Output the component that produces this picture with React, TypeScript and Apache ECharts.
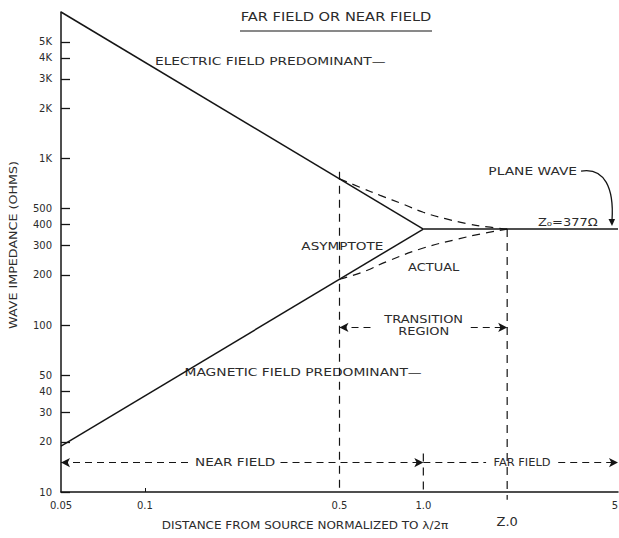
import React, { useEffect, useRef } from 'react';
import * as echarts from 'echarts';

// ---- axis ticks ----
const xTickValues = [0.05, 0.1, 0.5, 1, 2, 5];
const xTickLabels = ['0.05', '0.1', '0.5', '1.0', 'Z.0', '5'];
const xMinorTicks = [0.1];
const yTickValues = [10, 20, 30, 40, 50, 100, 200, 300, 400, 500, 1000, 2000, 3000, 4000, 5000];
const yTickLabels = ['10', '20', '30', '40', '50', '100', '200', '300', '400', '500', '1K', '2K', '3K', '4K', '5K'];
const xRange = [0.05, 5];
const yRange = [10, 7540];

// ---- curves (x = distance / (lambda/2pi), y = wave impedance in ohms) ----
const electricAsymptote = [[0.05, 7540], [1, 377]];
const magneticAsymptote = [[0.05, 18.85], [1, 377]];
const planeWave = [[1, 377], [5, 377]];
const electricActual = [[0.5, 754], [0.6, 665], [0.7, 600], [0.85, 530], [1.0, 475], [1.2, 435], [1.45, 405], [1.7, 388], [2.0, 377]];
const magneticActual = [[0.5, 188.5], [0.6, 207], [0.75, 243], [1.0, 290], [1.3, 325], [1.6, 352], [2.0, 377]];
const boundaryHalf = [[0.5, 830], [0.5, 10]];
const boundaryOne = [[1, 17], [1, 10]];
const boundaryTwo = [[2, 377], [2, 9]];

// ---- region arrows: [fromX, toX, level, arrowAtStart, arrowAtEnd] ----
const regionArrows: [number, number, number, boolean, boolean][] = [
  [0.5, 0.67, 97, true, false],
  [1.48, 2, 97, false, true],
  [0.05, 0.146, 15, true, false],
  [0.307, 1, 15, false, true],
  [1, 1.68, 15, false, false],
  [3.05, 5, 15, false, true],
];

// ---- annotations (data coordinates of text centres) ----
const annotations = [
  { text: 'ELECTRIC FIELD PREDOMINANT—', x: 0.282, y: 3810, sx: 1.38 },
  { text: 'MAGNETIC FIELD PREDOMINANT—', x: 0.37, y: 51.6, sx: 1.38 },
  { text: 'ASYMPTOTE', x: 0.512, y: 297, sx: 1.36 },
  { text: 'ACTUAL', x: 1.089, y: 222, sx: 1.3 },
  { text: 'TRANSITION', x: 1.003, y: 108.6, sx: 1.3 },
  { text: 'REGION', x: 1.003, y: 92, sx: 1.3 },
  { text: 'PLANE WAVE', x: 2.47, y: 835, sx: 1.38 },
  { text: 'Z₀=377Ω', x: 3.3, y: 410, sx: 1.3 },
  { text: 'NEAR FIELD', x: 0.211, y: 15, sx: 1.36 },
  { text: 'FAR FIELD', x: 2.26, y: 15, sx: 1.14 },
];
const planeWaveTarget = [4.72, 377];

const titleText = 'FAR FIELD OR NEAR FIELD';
const xAxisTitle = 'DISTANCE FROM SOURCE NORMALIZED TO λ/2π';
const yAxisTitle = 'WAVE IMPEDANCE (OHMS)';

const FONT = 'DejaVu Sans';
const LINE = '#151515';
const TEXT = '#2b2b2b';

function lookup(values: number[], labels: string[], v: number) {
  let best = 0;
  let bestD = Infinity;
  values.forEach((t, i) => {
    const d = Math.abs(Math.log10(t) - Math.log10(v));
    if (d < bestD) { bestD = d; best = i; }
  });
  return bestD < 0.01 ? labels[best] : '';
}

export default function App() {
  const ref = useRef<HTMLDivElement>(null);
  useEffect(() => {
    document.body.style.margin = '0';
    const chart = echarts.init(ref.current!, null, { renderer: 'svg' });

    const solid = (name: string, data: number[][], extra: any = {}) => ({
      type: 'line', name, data, symbol: 'none', silent: true, z: 3,
      lineStyle: { color: LINE, width: 1.5 }, ...extra,
    });
    const dashed = (name: string, data: number[][], extra: any = {}) => ({
      type: 'line', name, data, symbol: 'none', silent: true, z: 2,
      lineStyle: { color: LINE, width: 1.2, type: [8, 6] }, ...extra,
    });

    const markData = regionArrows.map(([x0, x1, lvl, a0, a1]) => [
      { coord: [x0, lvl], symbol: a0 ? 'arrow' : 'none' },
      { coord: [x1, lvl], symbol: a1 ? 'arrow' : 'none' },
    ]);

    const option: any = {
      animation: false,
      backgroundColor: '#ffffff',
      grid: { left: 61, top: 12, right: 1, bottom: 46, containLabel: false, outerBoundsMode: 'none' },
      xAxis: {
        type: 'log', logBase: 10, min: xRange[0], max: xRange[1],
        axisLine: { show: true, onZero: false, lineStyle: { color: LINE, width: 1.5 } },
        axisTick: { show: true, inside: true, length: 4, customValues: xMinorTicks, lineStyle: { color: LINE, width: 1 } },
        axisLabel: {
          customValues: xTickValues,
          margin: 8,
          alignMaxLabel: 'right',
          color: TEXT, fontSize: 10, fontFamily: FONT,
          formatter: (v: number) => {
            const s = lookup(xTickValues, xTickLabels, v);
            return s === 'Z.0' ? '{z|Z.0}' : s;
          },
          rich: { z: { fontSize: 13, fontFamily: FONT, color: TEXT, padding: [15, 0, 0, 0] } },
        },
        splitLine: { show: false }, minorTick: { show: false }, minorSplitLine: { show: false },
      },
      yAxis: {
        type: 'log', logBase: 10, min: yRange[0], max: yRange[1],
        axisLine: { show: true, lineStyle: { color: LINE, width: 1.5 } },
        axisTick: { show: true, inside: true, length: 9, customValues: yTickValues, lineStyle: { color: LINE, width: 1.3 } },
        axisLabel: {
          customValues: yTickValues,
          margin: 9,
          color: TEXT, fontSize: 10, fontFamily: FONT,
          formatter: (v: number) => lookup(yTickValues, yTickLabels, v),
        },
        splitLine: { show: false }, minorTick: { show: false }, minorSplitLine: { show: false },
      },
      series: [
        solid('Electric asymptote', electricAsymptote),
        solid('Magnetic asymptote', magneticAsymptote),
        solid('Plane wave', planeWave, {
          markLine: {
            silent: true, animation: false,
            symbol: ['none', 'none'], symbolSize: [7, 9],
            label: { show: false },
            lineStyle: { color: LINE, width: 1.1, type: [7, 5] },
            emphasis: { disabled: true },
            data: markData,
          },
        }),
        dashed('Electric actual', electricActual, { smooth: true }),
        dashed('Magnetic actual', magneticActual, { smooth: true }),
        dashed('Boundary 0.5', boundaryHalf),
        dashed('Boundary 1.0', boundaryOne),
        dashed('Boundary 2.0', boundaryTwo, { clip: false }),
      ],
    };
    chart.setOption(option);

    const px = (x: number, y: number) => chart.convertToPixel({ gridIndex: 0 }, [x, y]) as number[];
    const txt = (text: string, x: number, y: number, size = 10, scaleX = 1.38, rotation = 0) => ({
      type: 'text', x, y, scaleX, rotation, silent: true,
      style: { text, fill: TEXT, fontSize: size, fontFamily: FONT, align: 'center', verticalAlign: 'middle', textAlign: 'center', textVerticalAlign: 'middle' },
    });

    const graphics: any[] = annotations.map((a) => {
      const p = px(a.x, a.y);
      return txt(a.text, p[0], p[1], 10, a.sx);
    });
    graphics.push(txt(titleText, 336, 17, 12, 1.22));
    graphics.push({ type: 'line', silent: true, shape: { x1: 240, y1: 31, x2: 432, y2: 31 }, style: { stroke: LINE, lineWidth: 1.2 } });
    graphics.push(txt(xAxisTitle, 305, 526, 10, 1.2));
    graphics.push(txt(yAxisTitle, 14, 245, 10, 1.27, Math.PI / 2));

    const t = px(planeWaveTarget[0], planeWaveTarget[1]);
    graphics.push({
      type: 'bezierCurve', silent: true,
      shape: { x1: t[0] - 30, y1: t[1] - 58, cpx1: t[0] - 6, cpy1: t[1] - 62, cpx2: t[0] + 3, cpy2: t[1] - 40, x2: t[0] + 1, y2: t[1] - 9 },
      style: { stroke: LINE, lineWidth: 1.3, fill: 'none' },
    });
    graphics.push({
      type: 'polygon', silent: true,
      shape: { points: [[t[0] - 2.5, t[1] - 10], [t[0] + 4, t[1] - 10], [t[0] + 1, t[1] - 3]] },
      style: { fill: LINE },
    });

    chart.setOption({ graphic: graphics });
    return () => chart.dispose();
  }, []);
  return <div ref={ref} style={{ width: 619, height: 538 }} />;
}
